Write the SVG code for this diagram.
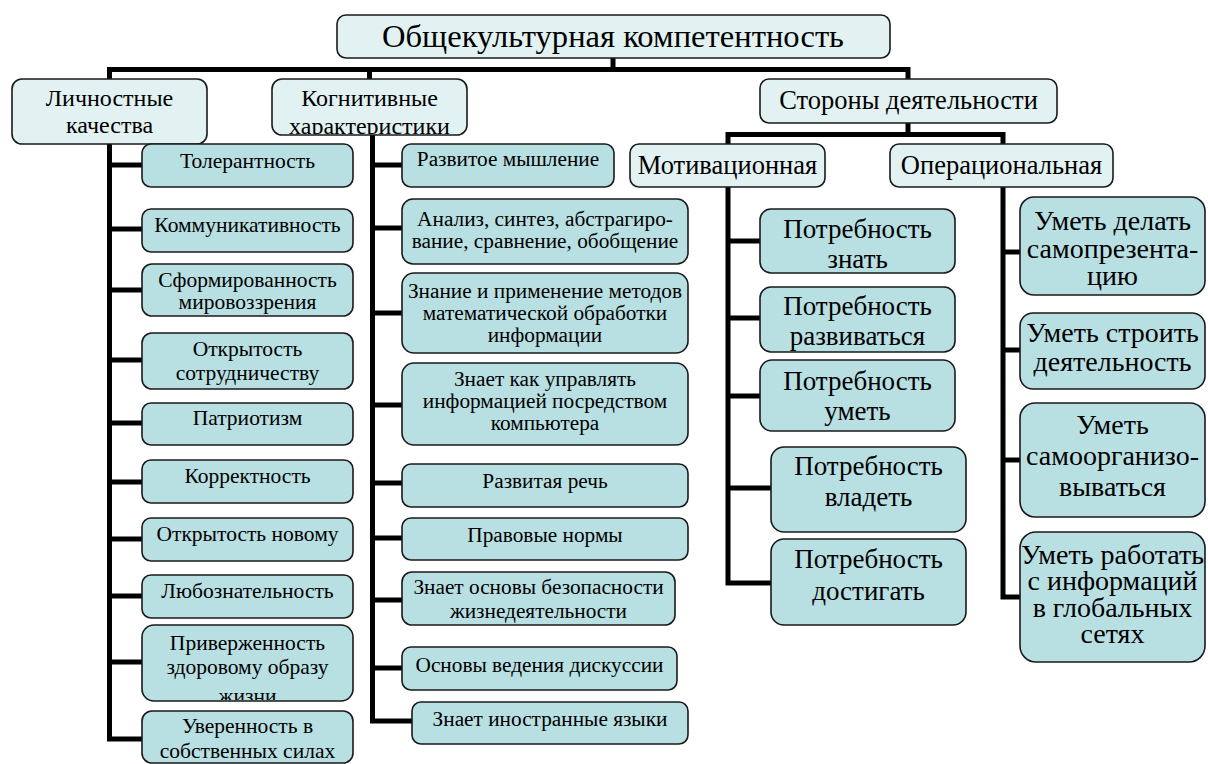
<svg xmlns="http://www.w3.org/2000/svg" width="1208" height="764" viewBox="0 0 1208 764">
<defs>
<style>
.top{fill:#e2f2f2;stroke:#1a1a1a;stroke-width:1.6}
.ch{fill:#b8dfe2;stroke:#1a1a1a;stroke-width:1.6}
.ln{fill:none;stroke:#000;stroke-width:5;stroke-linejoin:miter;stroke-linecap:butt}
text{font-family:'Liberation Serif','Times New Roman',serif;fill:#000;text-anchor:middle}
.f32{font-size:32.6px}
.f24{font-size:24px}
.f26{font-size:26.5px}
.f27{font-size:27px}
.f28{font-size:28px}
.f21{font-size:21.5px}
.f21m{font-size:21.3px}
</style>
<clipPath id="clipKog"><rect x="272" y="79" width="195" height="55"/></clipPath>
<clipPath id="clipPriv"><rect x="142" y="625" width="211" height="75"/></clipPath>
</defs>
<rect width="1208" height="764" fill="#fff"/>
<g id="connectors">
<path class="ln" d="M613 58V69.5M107 69.5H910.5M109.5 69.5V79M369.5 69.5V79M908 69.5V79"/>
<path class="ln" d="M109.5 144V739H142M109.5 165H142M109.5 229H142M109.5 290H142M109.5 360H142M109.5 423H142M109.5 482H142M109.5 539H142M109.5 596H142M109.5 662H142"/>
<path class="ln" d="M372.5 135V721H412M372.5 165H402M372.5 228H402M372.5 313H402M372.5 405H402M372.5 483H402M372.5 538H402M372.5 600H402M372.5 668H402"/>
<path class="ln" d="M908 123V134.5M725.5 134.5H1005.5M728 134.5V144M1003 134.5V144"/>
<path class="ln" d="M728 187V583H771M728 241H760M728 318H760M728 396H760M728 488H771"/>
<path class="ln" d="M1003 187V597H1020M1003 252H1020M1003 350H1020M1003 460H1020"/>
</g>
<g id="n-root"><rect class="top" x="337" y="15" width="553" height="43" rx="9"/><text class="f32" x="613" y="47">Общекультурная компетентность</text></g>
<g id="n-lich"><rect class="top" x="12" y="79" width="195" height="65" rx="10"/><text class="f24" x="109.5" y="106">Личностные</text><text class="f24" x="109.5" y="133">качества</text></g>
<g id="n-kog"><rect class="top" x="272" y="79" width="195" height="56" rx="10"/><g clip-path="url(#clipKog)"><text class="f24" x="369.5" y="106">Когнитивные</text><text class="f24" x="369.5" y="134">характеристики</text></g></g>
<g id="n-stor"><rect class="top" x="760" y="79" width="297" height="44" rx="9"/><text class="f26" x="908.5" y="109">Стороны деятельности</text></g>
<g id="n-motiv"><rect class="top" x="630" y="144" width="195" height="43" rx="9"/><text class="f26" x="727.5" y="174">Мотивационная</text></g>
<g id="n-oper"><rect class="top" x="890" y="144" width="223" height="43" rx="9"/><text class="f26" x="1001.5" y="174">Операциональная</text></g>

<g id="n-l1"><rect class="ch" x="142" y="144" width="211" height="43" rx="9"/><text class="f21" x="247.5" y="168">Толерантность</text></g>
<g id="n-l2"><rect class="ch" x="142" y="209" width="211" height="43" rx="9"/><text class="f21" x="247.5" y="232">Коммуникативность</text></g>
<g id="n-l3"><rect class="ch" x="142" y="264" width="211" height="52" rx="10"/><text class="f21" x="247.5" y="287">Сформированность</text><text class="f21" x="247.5" y="309">мировоззрения</text></g>
<g id="n-l4"><rect class="ch" x="142" y="333" width="211" height="56" rx="10"/><text class="f21" x="247.5" y="356">Открытость</text><text class="f21" x="247.5" y="380">сотрудничеству</text></g>
<g id="n-l5"><rect class="ch" x="142" y="403" width="211" height="42" rx="9"/><text class="f21" x="247.5" y="425">Патриотизм</text></g>
<g id="n-l6"><rect class="ch" x="142" y="460" width="211" height="43" rx="9"/><text class="f21" x="247.5" y="483">Корректность</text></g>
<g id="n-l7"><rect class="ch" x="142" y="518" width="211" height="43" rx="9"/><text class="f21" x="247.5" y="541">Открытость новому</text></g>
<g id="n-l8"><rect class="ch" x="142" y="575" width="211" height="43" rx="9"/><text class="f21" x="247.5" y="598">Любознательность</text></g>
<g id="n-l9"><rect class="ch" x="142" y="625" width="211" height="76" rx="12"/><g clip-path="url(#clipPriv)"><text class="f21" x="247.5" y="650">Приверженность</text><text class="f21" x="247.5" y="674">здоровому образу</text><text class="f21" x="247.5" y="703">жизни</text></g></g>
<g id="n-l10"><rect class="ch" x="142" y="711" width="211" height="52" rx="10"/><text class="f21" x="247.5" y="733">Уверенность в</text><text class="f21" x="247.5" y="758">собственных силах</text></g>

<g id="n-m1"><rect class="ch" x="402" y="144" width="212" height="43" rx="9"/><text class="f21m" x="508" y="166">Развитое мышление</text></g>
<g id="n-m2"><rect class="ch" x="402" y="199" width="286" height="65" rx="11"/><text class="f21m" x="545" y="226">Анализ, синтез, абстрагиро-</text><text class="f21m" x="545" y="248">вание, сравнение, обобщение</text></g>
<g id="n-m3"><rect class="ch" x="402" y="273" width="286" height="80" rx="12"/><text class="f21m" x="545" y="298">Знание и применение методов</text><text class="f21m" x="545" y="320">математической обработки</text><text class="f21m" x="545" y="342">информации</text></g>
<g id="n-m4"><rect class="ch" x="402" y="363" width="286" height="82" rx="12"/><text class="f21m" x="545" y="386">Знает как управлять</text><text class="f21m" x="545" y="408">информацией посредством</text><text class="f21m" x="545" y="430">компьютера</text></g>
<g id="n-m5"><rect class="ch" x="402" y="464" width="286" height="43" rx="9"/><text class="f21m" x="545" y="488">Развитая речь</text></g>
<g id="n-m6"><rect class="ch" x="402" y="518" width="286" height="42" rx="9"/><text class="f21m" x="545" y="542">Правовые нормы</text></g>
<g id="n-m7"><rect class="ch" x="402" y="572" width="273" height="53" rx="10"/><text class="f21m" x="538.5" y="594">Знает основы безопасности</text><text class="f21m" x="538.5" y="618">жизнедеятельности</text></g>
<g id="n-m8"><rect class="ch" x="402" y="647" width="275" height="43" rx="9"/><text class="f21m" x="539.5" y="672">Основы ведения дискуссии</text></g>
<g id="n-m9"><rect class="ch" x="412" y="702" width="276" height="42" rx="9"/><text class="f21m" x="550" y="726">Знает иностранные языки</text></g>

<g id="n-p1"><rect class="ch" x="760" y="209" width="195" height="64" rx="11"/><text class="f27" x="857.5" y="238">Потребность</text><text class="f27" x="857.5" y="268">знать</text></g>
<g id="n-p2"><rect class="ch" x="760" y="287" width="195" height="65" rx="11"/><text class="f27" x="857.5" y="315">Потребность</text><text class="f27" x="857.5" y="345">развиваться</text></g>
<g id="n-p3"><rect class="ch" x="760" y="360" width="195" height="71" rx="12"/><text class="f27" x="857.5" y="390">Потребность</text><text class="f27" x="857.5" y="420">уметь</text></g>
<g id="n-p4"><rect class="ch" x="771" y="447" width="195" height="85" rx="13"/><text class="f27" x="868.5" y="475">Потребность</text><text class="f27" x="868.5" y="506">владеть</text></g>
<g id="n-p5"><rect class="ch" x="771" y="539" width="195" height="86" rx="13"/><text class="f27" x="868.5" y="568">Потребность</text><text class="f27" x="868.5" y="600">достигать</text></g>

<g id="n-o1"><rect class="ch" x="1020" y="197" width="185" height="98" rx="14"/><text class="f28" x="1112.5" y="230">Уметь делать</text><text class="f28" x="1112.5" y="258">самопрезента-</text><text class="f28" x="1112.5" y="285">цию</text></g>
<g id="n-o2"><rect class="ch" x="1020" y="313" width="185" height="76" rx="13"/><text class="f28" x="1112.5" y="342">Уметь строить</text><text class="f28" x="1112.5" y="371">деятельность</text></g>
<g id="n-o3"><rect class="ch" x="1020" y="403" width="185" height="114" rx="15"/><text class="f28" x="1112.5" y="434">Уметь</text><text class="f28" x="1112.5" y="465">самоорганизо-</text><text class="f28" x="1112.5" y="496">вываться</text></g>
<g id="n-o4"><rect class="ch" x="1020" y="532" width="185" height="130" rx="16"/><text class="f28" x="1112.5" y="564">Уметь работать</text><text class="f28" x="1112.5" y="590">с информаций</text><text class="f28" x="1112.5" y="617">в глобальных</text><text class="f28" x="1112.5" y="643">сетях</text></g>
</svg>
